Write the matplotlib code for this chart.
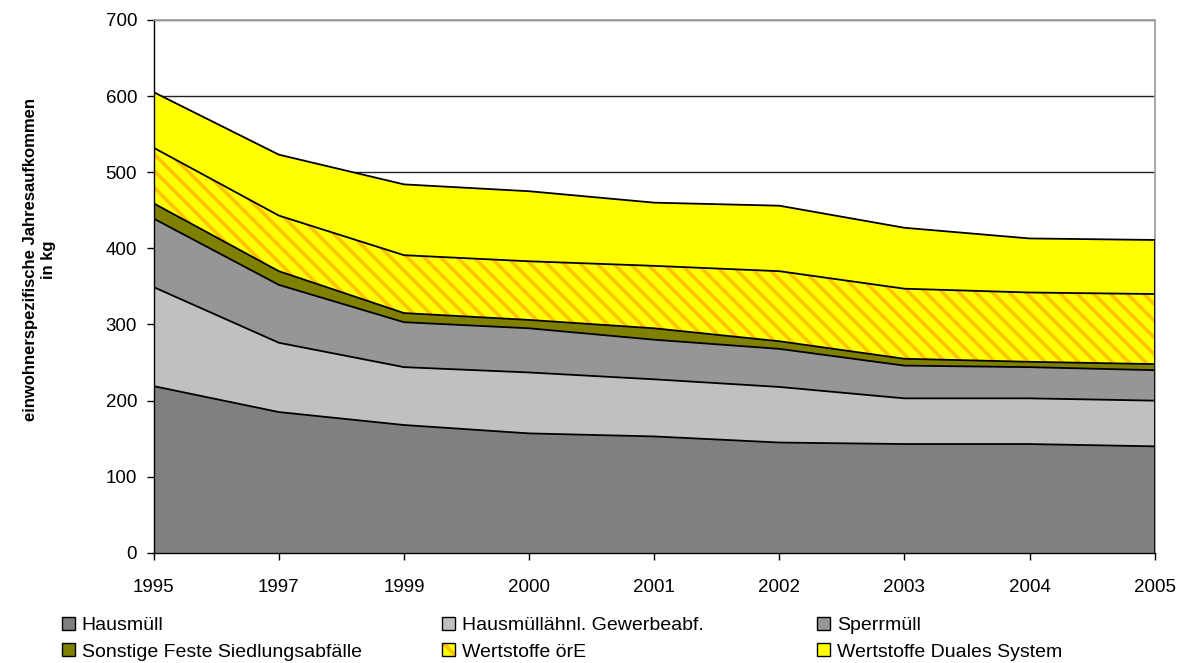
import matplotlib.pyplot as plt
from matplotlib.patches import Patch
from matplotlib.legend_handler import HandlerTuple

plt.rcParams['font.family'] = ['Liberation Sans', 'DejaVu Sans']
plt.rcParams['hatch.linewidth'] = 2.6
plt.rcParams['hatch.color'] = '#FFC400'

years = ['1995', '1997', '1999', '2000', '2001', '2002', '2003', '2004', '2005']

# kg per inhabitant
hausmuell = [219, 185, 168, 157, 153, 145, 143, 143, 140]
gewerbe = [130, 91, 76, 80, 75, 73, 60, 60, 60]
sperrmuell = [90, 76, 59, 58, 52, 50, 43, 41, 40]
sonstige = [20, 18, 12, 11, 15, 10, 9, 7, 8]
wertstoffe_oere = [73, 73, 76, 77, 82, 92, 92, 91, 92]
wertstoffe_dsd = [73, 80, 93, 92, 83, 86, 80, 71, 71]

labels = ['Hausmüll', 'Hausmüllähnl. Gewerbeabf.', 'Sperrmüll',
          'Sonstige Feste Siedlungsabfälle', 'Wertstoffe örE', 'Wertstoffe Duales System']
colors = ['#808080', '#C0C0C0', '#969696', '#808000', '#FFFF00', '#FFFF00']
hatches = [None, None, None, None, '\\\\', None]

series = [hausmuell, gewerbe, sperrmuell, sonstige, wertstoffe_oere, wertstoffe_dsd]

fig = plt.figure(figsize=(11.83, 6.63), dpi=100)
ax = fig.add_axes([0.130, 0.166, 0.846, 0.804])

x = list(range(len(years)))
bottom = [0] * len(years)
for vals, col, h in zip(series, colors, hatches):
    top = [b + v for b, v in zip(bottom, vals)]
    # no edgecolor so the hatch keeps rcParams hatch.color
    ax.fill_between(x, bottom, top, facecolor=col, linewidth=0, hatch=h, zorder=2)
    ax.plot(x, top, color='black', linewidth=1.3, zorder=3)
    bottom = top
ax.plot([x[-1], x[-1]], [0, bottom[-1]], color='black', linewidth=1.3, zorder=3)

ax.set_xlim(0, len(years) - 1)
ax.set_ylim(0, 700)
ax.set_yticks(range(0, 701, 100))
ax.set_xticks(x)
ax.set_xticklabels(years)
ax.tick_params(axis='both', direction='out', length=5, width=1, labelsize=13.5, colors='black')
ax.tick_params(axis='x', pad=14)
ax.tick_params(axis='y', pad=7)
ax.yaxis.grid(True, color='#222222', linewidth=1.0, zorder=1)
ax.set_axisbelow(True)

for s in ['top', 'right']:
    ax.spines[s].set_color('#A0A0A0')
    ax.spines[s].set_linewidth(1.3)
for s in ['left', 'bottom']:
    ax.spines[s].set_color('black')
    ax.spines[s].set_linewidth(1.0)

ax.set_ylabel('einwohnerspezifische Jahresaufkommen\nin kg', fontsize=12,
              fontweight='bold', linespacing=1.25)
ax.yaxis.set_label_coords(-0.098, 0.55)

# legend: three columns, two rows (row-wise order as in the original)
handles = []
for c, h in zip(colors, hatches):
    fill = Patch(facecolor=c, hatch=h, linewidth=0)
    edge = Patch(facecolor='none', edgecolor='black', linewidth=1.0)
    handles.append((fill, edge))

col_x = [62, 442, 817]
for i, cx in enumerate(col_x):
    idx = [i, i + 3]
    fig.legend([handles[j] for j in idx], [labels[j] for j in idx],
               handler_map={tuple: HandlerTuple(ndivide=1)},
               loc='upper left', bbox_to_anchor=(cx / 1183, 1 - 617 / 663),
               frameon=False, fontsize=14, borderpad=0, borderaxespad=0,
               handlelength=0.66, handleheight=0.66, handletextpad=0.36,
               labelspacing=0.45)

fig.savefig('out.png', dpi=100)
